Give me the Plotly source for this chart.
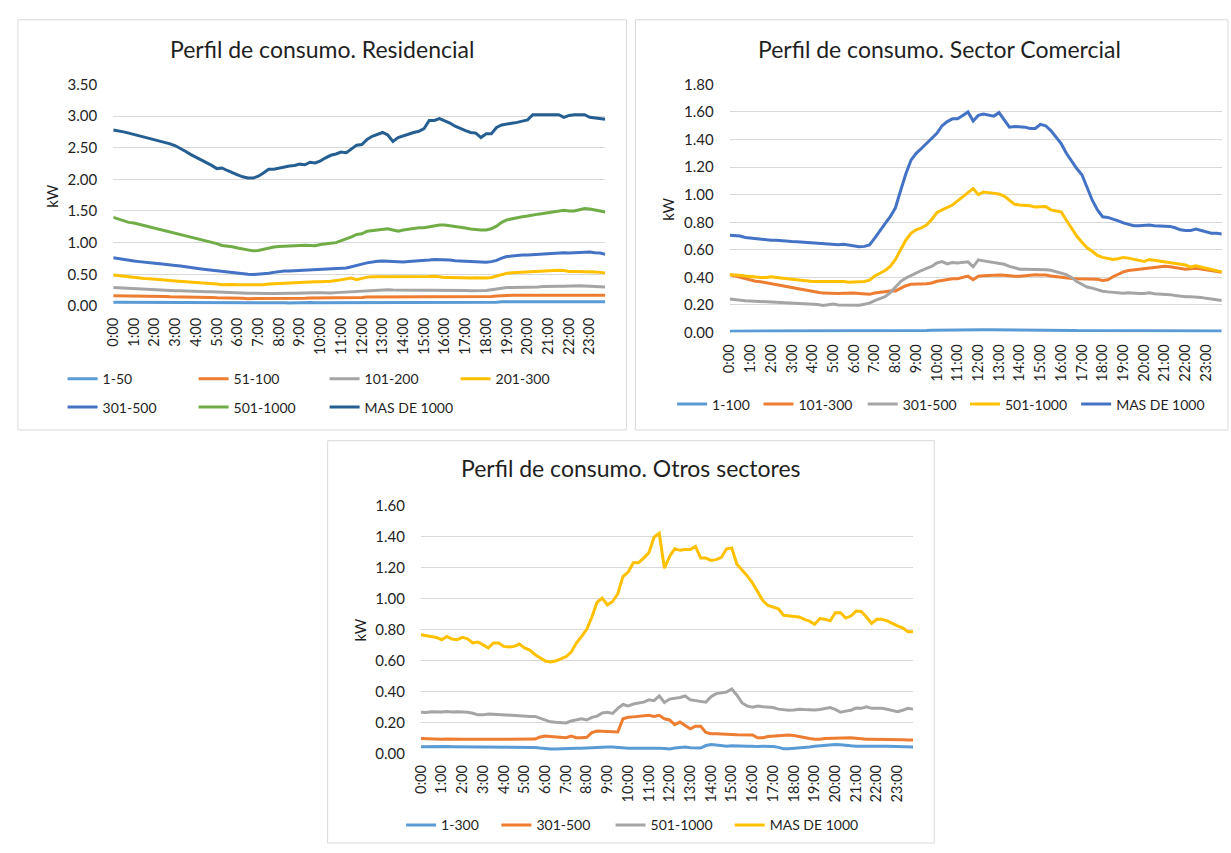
import plotly.graph_objects as go

W, H = 1231, 853
FONT = "Lato"
TEXT = "#1f1f1f"
GRID = "#D9D9D9"

# 15-minute slots, hourly tick labels
slots = [f"{h}:{m:02d}" for h in range(24) for m in (0, 15, 30, 45)]
hour_ticks = [f"{h}:00" for h in range(24)]

# ---------------- Residencial ----------------
res_names = ["1-50", "51-100", "101-200", "201-300", "301-500", "501-1000", "MAS DE 1000"]
res_colors = ["#5B9BD5", "#ED7D31", "#A5A5A5", "#FFC000", "#4472C4", "#70AD47", "#255E91"]

res_1_50 = [
    .06, .06, .06, .06, .06, .06, .06, .06, .06, .06, .06, .06, .06, .06, .055, .055,
    .055, .055, .055, .055, .055, .055, .055, .055, .05, .05, .05, .05, .05, .05, .05, .05,
    .05, .05, .045, .05, .055, .055, .055, .05, .05, .05, .055, .055, .055, .055, .055, .055,
    .055, .06, .06, .06, .06, .06, .06, .06, .06, .06, .06, .06, .06, .06, .06, .06,
    .06, .06, .06, .06, .06, .06, .055, .055, .06, .06, .06, .065, .065, .065, .065, .065,
    .07, .07, .07, .07, .07, .07, .07, .07, .07, .07, .07, .07, .07, .07, .065, .065,
]
res_51_100 = [
    .16, .16, .155, .155, .155, .155, .155, .15, .15, .15, .15, .145, .145, .14, .14, .14,
    .14, .14, .135, .135, .13, .13, .125, .125, .12, .12, .115, .115, .115, .11, .115, .115,
    .115, .12, .12, .12, .12, .12, .125, .125, .125, .13, .13, .13, .13, .13, .13, .13,
    .135, .14, .14, .14, .145, .145, .145, .145, .145, .15, .15, .145, .145, .145, .145, .145,
    .145, .145, .145, .145, .14, .14, .14, .14, .145, .15, .155, .165, .165, .17, .17, .17,
    .175, .175, .175, .17, .17, .17, .175, .175, .175, .175, .175, .175, .17, .17, .17, .17,
]
res_101_200 = [
    .29, .285, .28, .275, .27, .265, .26, .26, .255, .25, .25, .245, .24, .24, .235, .235,
    .23, .23, .225, .225, .22, .215, .21, .21, .205, .205, .2, .2, .195, .195, .195, .195,
    .2, .2, .2, .2, .205, .205, .21, .21, .21, .205, .205, .21, .215, .22, .225, .23,
    .235, .24, .245, .25, .255, .255, .25, .25, .255, .255, .25, .25, .25, .25, .25, .25,
    .25, .25, .25, .245, .245, .24, .24, .24, .245, .255, .27, .28, .29, .29, .29, .29,
    .29, .295, .3, .305, .31, .31, .31, .31, .315, .32, .32, .315, .31, .305, .3, .3,
]
res_201_300 = [
    .49, .48, .47, .455, .445, .44, .435, .43, .42, .415, .41, .40, .395, .39, .385, .38,
    .375, .37, .365, .355, .345, .335, .34, .34, .335, .335, .33, .325, .33, .335, .345, .35,
    .35, .35, .355, .36, .365, .37, .38, .38, .38, .38, .39, .40, .41, .42, .44, .415,
    .44, .455, .46, .46, .465, .465, .46, .455, .455, .46, .465, .465, .465, .465, .47, .455,
    .45, .45, .445, .445, .44, .44, .445, .44, .44, .45, .475, .50, .515, .525, .53, .535,
    .54, .545, .55, .55, .555, .56, .565, .56, .545, .545, .545, .545, .54, .535, .53, .52,
]
res_301_500 = [
    .76, .745, .73, .72, .71, .70, .695, .685, .675, .665, .66, .65, .64, .63, .615, .605,
    .595, .585, .575, .565, .555, .545, .53, .52, .51, .505, .50, .495, .50, .505, .515, .53,
    .545, .55, .55, .555, .56, .565, .57, .575, .58, .58, .58, .585, .59, .60, .62, .645,
    .66, .68, .695, .705, .71, .705, .70, .695, .695, .70, .705, .705, .715, .725, .735, .735,
    .735, .725, .715, .71, .705, .70, .69, .685, .69, .70, .72, .755, .78, .79, .80, .805,
    .805, .81, .82, .83, .835, .84, .845, .84, .835, .84, .85, .855, .85, .84, .835, .815,
]
res_501_1000 = [
    1.40, 1.37, 1.34, 1.32, 1.31, 1.29, 1.27, 1.25, 1.23, 1.21, 1.19, 1.17, 1.15, 1.13, 1.11, 1.09,
    1.07, 1.05, 1.03, 1.01, .985, .955, .95, .935, .915, .90, .885, .87, .875, .895, .91, .93,
    .94, .945, .95, .95, .955, .96, .955, .95, .97, .985, .99, 1.00, 1.03, 1.05, 1.09, 1.13,
    1.14, 1.18, 1.19, 1.20, 1.21, 1.22, 1.20, 1.18, 1.20, 1.215, 1.225, 1.235, 1.235, 1.25, 1.275, 1.28,
    1.28, 1.27, 1.26, 1.25, 1.23, 1.215, 1.205, 1.20, 1.20, 1.22, 1.26, 1.32, 1.36, 1.38, 1.40, 1.41,
    1.42, 1.44, 1.45, 1.46, 1.47, 1.48, 1.49, 1.51, 1.50, 1.50, 1.52, 1.54, 1.53, 1.52, 1.50, 1.485,
]
res_mas_1000 = [
    2.78, 2.77, 2.75, 2.73, 2.71, 2.69, 2.67, 2.65, 2.63, 2.60, 2.58, 2.56, 2.53, 2.49, 2.44, 2.39,
    2.35, 2.30, 2.26, 2.22, 2.17, 2.18, 2.14, 2.10, 2.07, 2.04, 2.02, 2.02, 2.05, 2.10, 2.16, 2.16,
    2.18, 2.19, 2.21, 2.22, 2.24, 2.23, 2.27, 2.26, 2.29, 2.34, 2.38, 2.40, 2.43, 2.42, 2.48, 2.54,
    2.55, 2.63, 2.68, 2.71, 2.74, 2.70, 2.60, 2.66, 2.69, 2.71, 2.74, 2.76, 2.80, 2.93, 2.93, 2.96,
    2.93, 2.89, 2.84, 2.80, 2.77, 2.74, 2.73, 2.66, 2.72, 2.72, 2.82, 2.86, 2.87, 2.89, 2.90, 2.92,
    2.94, 3.02, 3.02, 3.02, 3.03, 3.02, 3.02, 2.98, 3.01, 3.02, 3.02, 3.02, 2.98, 2.97, 2.97, 2.95,
]

# ---------------- Sector Comercial ----------------
com_names = ["1-100", "101-300", "301-500", "501-1000", "MAS DE 1000"]
com_colors = ["#5B9BD5", "#ED7D31", "#A5A5A5", "#FFC000", "#4472C4"]

com_1_100 = [
    .01, .01, .01, .01, .01, .01, .01, .01, .01, .01, .01, .01, .01, .01, .01, .01,
    .01, .01, .01, .01, .01, .01, .01, .01, .01, .01, .01, .01, .01, .01, .01, .011,
    .012, .012, .013, .013, .014, .014, .015, .016, .017, .017, .018, .018, .019, .019, .02, .02,
    .02, .02, .02, .02, .02, .02, .019, .019, .018, .018, .018, .018, .017, .017, .016, .016,
    .015, .015, .015, .014, .014, .014, .013, .013, .013, .013, .013, .013, .014, .014, .014, .014,
    .014, .014, .013, .013, .013, .013, .013, .012, .012, .012, .012, .012, .011, .011, .011, .011,
]
com_101_300 = [
    .42, .41, .401, .39, .378, .372, .368, .362, .355, .348, .342, .335, .327, .32, .314, .308,
    .304, .293, .286, .284, .283, .283, .285, .288, .286, .283, .28, .277, .287, .292, .298, .301,
    .302, .322, .34, .35, .35, .352, .354, .36, .372, .378, .384, .39, .39, .40, .409, .383,
    .409, .412, .415, .42, .418, .415, .41, .409, .409, .412, .418, .42, .418, .418, .41, .405,
    .398, .395, .392, .39, .39, .39, .39, .386, .378, .383, .405, .425, .44, .45, .455, .46,
    .463, .468, .473, .476, .48, .477, .473, .465, .46, .463, .466, .46, .454, .45, .444, .437,
]
com_301_500 = [
    .243, .238, .233, .231, .229, .227, .224, .222, .22, .218, .216, .214, .213, .211, .21, .209,
    .208, .204, .196, .204, .207, .20, .20, .198, .196, .198, .205, .213, .232, .245, .26, .29,
    .33, .37, .395, .413, .437, .45, .465, .48, .505, .515, .498, .508, .505, .51, .513, .477,
    .527, .52, .515, .51, .50, .495, .48, .47, .46, .46, .46, .458, .455, .455, .452, .442,
    .435, .42, .40, .37, .35, .33, .322, .31, .30, .295, .29, .285, .285, .288, .283, .283,
    .283, .288, .282, .28, .279, .275, .268, .262, .26, .26, .258, .255, .248, .243, .238, .232,
]
com_501_1000 = [
    .42, .42, .415, .41, .405, .40, .40, .40, .405, .40, .395, .39, .385, .38, .375, .37,
    .37, .37, .37, .37, .375, .37, .37, .365, .365, .365, .37, .38, .41, .43, .45, .48,
    .53, .60, .67, .72, .745, .76, .78, .82, .87, .89, .905, .925, .955, .985, 1.02, 1.045,
    1.00, 1.02, 1.015, 1.01, 1.005, .99, .96, .93, .925, .925, .92, .91, .915, .915, .89, .88,
    .875, .815, .76, .70, .655, .615, .59, .56, .545, .535, .53, .535, .545, .54, .53, .52,
    .515, .53, .525, .52, .51, .505, .505, .50, .49, .475, .485, .475, .465, .455, .445, .44,
]
com_mas_1000 = [
    .705, .705, .70, .69, .685, .68, .68, .675, .67, .67, .665, .662, .66, .658, .655, .652,
    .65, .647, .645, .645, .642, .637, .64, .635, .625, .622, .625, .635, .685, .74, .79, .84,
    .905, 1.03, 1.15, 1.25, 1.30, 1.335, 1.37, 1.41, 1.445, 1.50, 1.53, 1.55, 1.55, 1.575, 1.60, 1.535,
    1.575, 1.585, 1.58, 1.57, 1.595, 1.545, 1.49, 1.495, 1.493, 1.49, 1.48, 1.48, 1.51, 1.50, 1.465, 1.42,
    1.37, 1.30, 1.24, 1.19, 1.145, 1.05, .96, .89, .84, .835, .825, .81, .795, .785, .775, .775,
    .78, .78, .775, .775, .775, .77, .76, .745, .74, .74, .75, .74, .725, .72, .72, .715,
]

# ---------------- Otros sectores ----------------
otr_names = ["1-300", "301-500", "501-1000", "MAS DE 1000"]
otr_colors = ["#5B9BD5", "#ED7D31", "#A5A5A5", "#FFC000"]

otr_1_300 = [
    .042, .043, .043, .042, .043, .043, .042, .042, .04, .04, .04, .04, .04, .04, .04, .04,
    .04, .04, .04, .04, .04, .04, .038, .034, .03, .028, .028, .028, .029, .03, .032, .033,
    .035, .038, .04, .04, .04, .04, .036, .033, .032, .032, .033, .033, .031, .033, .033, .031,
    .028, .034, .038, .04, .036, .033, .034, .05, .056, .053, .048, .046, .048, .046, .045, .045,
    .046, .043, .045, .045, .043, .038, .03, .03, .032, .035, .038, .04, .045, .048, .05, .052,
    .056, .055, .05, .048, .046, .045, .046, .046, .045, .045, .046, .044, .043, .042, .04, .04,
]
otr_301_500 = [
    .095, .093, .09, .092, .09, .092, .09, .09, .09, .09, .09, .091, .092, .092, .09, .09,
    .09, .09, .09, .09, .088, .09, .092, .105, .111, .108, .106, .104, .10, .111, .10, .10,
    .103, .133, .143, .142, .139, .137, .137, .223, .232, .235, .238, .24, .245, .238, .245, .223,
    .215, .185, .202, .18, .158, .175, .175, .135, .126, .126, .126, .124, .122, .12, .12, .118,
    .118, .10, .10, .108, .111, .111, .114, .118, .115, .107, .10, .095, .091, .09, .095, .096,
    .098, .101, .098, .10, .097, .093, .091, .091, .091, .09, .092, .09, .09, .088, .086, .086,
]
otr_501_1000 = [
    .265, .263, .268, .266, .266, .27, .266, .268, .268, .265, .258, .248, .248, .254, .252, .25,
    .248, .243, .242, .242, .24, .238, .238, .226, .212, .203, .20, .196, .196, .208, .215, .222,
    .215, .232, .24, .26, .265, .257, .29, .315, .305, .318, .325, .33, .345, .34, .37, .328,
    .35, .355, .36, .37, .345, .34, .335, .33, .365, .385, .39, .395, .415, .375, .325, .305,
    .298, .305, .30, .298, .295, .285, .28, .278, .28, .284, .282, .28, .28, .282, .29, .295,
    .283, .265, .272, .278, .292, .29, .30, .29, .29, .29, .284, .275, .268, .278, .29, .285,
]
otr_mas_1000 = [
    .765, .76, .754, .748, .733, .754, .737, .733, .748, .739, .712, .718, .70, .68, .712, .712,
    .69, .686, .69, .705, .68, .666, .638, .617, .596, .59, .596, .61, .623, .653, .712, .754,
    .80, .88, .975, 1.002, .958, .98, 1.03, 1.14, 1.17, 1.23, 1.23, 1.26, 1.295, 1.395, 1.42, 1.195,
    1.27, 1.32, 1.31, 1.315, 1.315, 1.335, 1.26, 1.26, 1.245, 1.25, 1.265, 1.32, 1.325, 1.22, 1.185, 1.145,
    1.10, 1.04, .986, .954, .945, .933, .891, .887, .88, .88, .864, .853, .832, .87, .865, .855,
    .907, .907, .873, .886, .918, .916, .88, .838, .865, .865, .855, .838, .823, .81, .785, .785,
]


def px(x):
    return x / W


def py(y):
    return 1 - y / H


fig = go.Figure()


def add_panel(n, title, names, colors, series, box, plot, ymax, dtick, title_xy, kw_xy, legends):
    """Add one bordered line chart panel (positions in pixels of the page)"""
    ax = "" if n == 1 else str(n)
    for i, (name, color, vals) in enumerate(zip(names, colors, series)):
        fig.add_trace(go.Scatter(
            x=slots, y=vals, mode="lines", name=name,
            line=dict(color=color, width=3),
            xaxis="x" + ax, yaxis="y" + ax,
            legend=legends[i][0],
            hovertemplate="%{x}: %{y:.2f} kW<extra>" + name + "</extra>",
        ))

    x0, y0, x1, y1 = plot
    fig.layout["xaxis" + ax] = dict(
        domain=[px(x0), px(x1)], anchor="y" + ax, type="category",
        range=[0, len(slots) - 1], tickvals=hour_ticks, ticktext=hour_ticks,
        tickangle=-90, showgrid=False, zeroline=False, showline=False, ticks="",
        ticklabelstandoff=8, tickfont=dict(family=FONT, size=14.5, color=TEXT),
    )
    fig.layout["yaxis" + ax] = dict(
        domain=[py(y1), py(y0)], anchor="x" + ax, range=[0, ymax], dtick=dtick,
        tickformat=".2f", showgrid=True, gridcolor=GRID, gridwidth=1,
        zeroline=False, showline=False, ticks="", ticklabelstandoff=15,
        tickfont=dict(family=FONT, size=15, color=TEXT),
    )

    bx0, by0, bx1, by1 = box
    fig.add_shape(type="rect", xref="paper", yref="paper",
                  x0=px(bx0), x1=px(bx1), y0=py(by1), y1=py(by0),
                  line=dict(color=GRID, width=1), fillcolor="rgba(0,0,0,0)", layer="below")
    fig.add_annotation(text=title, xref="paper", yref="paper",
                       x=px(title_xy[0]), y=py(title_xy[1]), xanchor="center", yanchor="middle",
                       showarrow=False, font=dict(family=FONT, size=23, color=TEXT))
    fig.add_annotation(text="kW", xref="paper", yref="paper", textangle=-90,
                       x=px(kw_xy[0]), y=py(kw_xy[1]), xanchor="center", yanchor="middle",
                       showarrow=False, font=dict(family=FONT, size=15, color=TEXT))


# legend id and pixel spot (line start x, row centre y) per trace
res_leg = [("legend", 60, 377)] * 4 + [("legend2", 60, 406)] * 3
com_leg = [("legend3", 674, 403), ("legend4", 761, 403), ("legend5", 866, 403),
           ("legend6", 969, 403), ("legend7", 1081, 403)]
otr_leg = [("legend8", 401, 833), ("legend9", 497, 833), ("legend10", 612, 833),
           ("legend11", 732, 833)]

add_panel(1, "Perfil de consumo. Residencial", res_names, res_colors,
          [res_1_50, res_51_100, res_101_200, res_201_300, res_301_500, res_501_1000, res_mas_1000],
          box=(9, 10, 622, 429), plot=(105, 76, 600.7, 302.3), ymax=3.5, dtick=0.5,
          title_xy=(315.5, 40), kw_xy=(43, 190), legends=res_leg)
add_panel(2, "Perfil de consumo. Sector Comercial", com_names, com_colors,
          [com_1_100, com_101_300, com_301_500, com_501_1000, com_mas_1000],
          box=(631, 10, 1228, 429), plot=(726, 76, 1221.7, 329.5), ymax=1.8, dtick=0.2,
          title_xy=(937.5, 40), kw_xy=(664, 204), legends=com_leg)
add_panel(3, "Perfil de consumo. Otros sectores", otr_names, otr_colors,
          [otr_1_300, otr_301_500, otr_501_1000, otr_mas_1000],
          box=(321, 440, 932, 851), plot=(415, 506.1, 910.7, 759.3), ymax=1.6, dtick=0.2,
          title_xy=(626.5, 468), kw_xy=(353.5, 633), legends=otr_leg)

LEG_OFF = 6  # gap between legend box edge and the start of its line sample
legend_layout = {}
for lid, lx, ly in res_leg + com_leg + otr_leg:
    legend_layout[lid] = dict(
        orientation="h", x=px(lx - LEG_OFF), y=py(ly), xanchor="left", yanchor="middle",
        xref="paper", yref="paper", bgcolor="rgba(0,0,0,0)", borderwidth=0,
        font=dict(family=FONT, size=14, color=TEXT),
        entrywidth=86 if lid in ("legend", "legend2") else 0, entrywidthmode="pixels",
        traceorder="normal",
    )

fig.update_layout(
    width=W, height=H,
    margin=dict(l=0, r=0, t=0, b=0),
    paper_bgcolor="white", plot_bgcolor="white",
    font=dict(family=FONT, size=14, color=TEXT),
    showlegend=True,
    **legend_layout,
)

# no page margin, so the figure sits at the top-left corner of the window
fig.write_html("out.html", config={"displayModeBar": False},
               post_script="document.body.style.margin='0';document.body.style.overflow='hidden';")
